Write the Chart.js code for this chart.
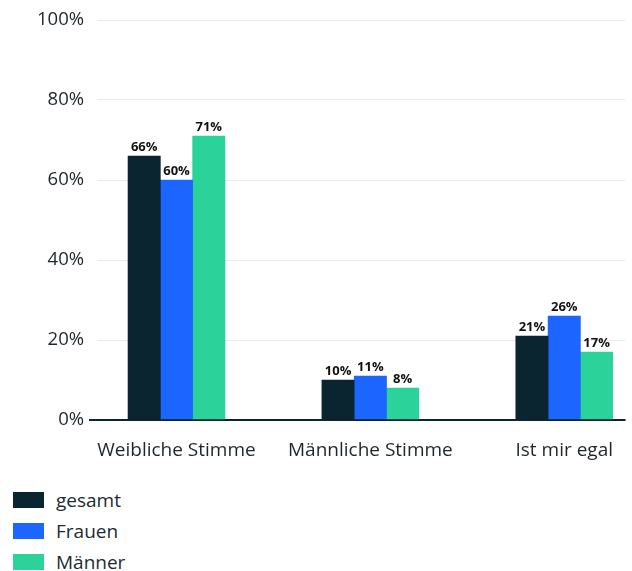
<!DOCTYPE html>
<html>
<head>
<meta charset="utf-8">
<script src="https://cdn.jsdelivr.net/npm/chart.js@4"></script>
<style>
  html, body { margin: 0; padding: 0; background: #fff; }
  #wrap { position: relative; width: 632px; height: 470px; }
  #legend { position: absolute; left: 13px; top: 484px; font-family: "Open Sans", sans-serif; font-size: 19px; color: #1c2b33; }
  .item { display: flex; align-items: center; height: 31px; }
  .box { width: 31px; height: 16px; margin-right: 12px; }
</style>
</head>
<body>
<div id="wrap"><canvas id="c"></canvas></div>
<div id="legend"></div>
<script>
const categories = ['Weibliche Stimme', 'Männliche Stimme', 'Ist mir egal'];
const seriesNames = ['gesamt', 'Frauen', 'Männer'];
const gesamt = [66, 10, 21];
const frauen = [60, 11, 26];
const maenner = [71, 8, 17];
const yTicks = [0, 20, 40, 60, 80, 100];
const colors = ['#0a252f', '#1c66ff', '#2bd39a'];

const seriesValues = [gesamt, frauen, maenner];
const datasets = seriesNames.map((name, i) => ({
  label: name,
  data: seriesValues[i].map((v, j) => ({ x: j, y: v })),
  backgroundColor: colors[i],
  borderWidth: 0,
  barThickness: 32.3
}));

const valueLabels = {
  id: 'valueLabels',
  afterDatasetsDraw(chart) {
    const ctx = chart.ctx;
    ctx.save();
    ctx.font = 'bold 13px "Open Sans", sans-serif';
    ctx.fillStyle = '#111';
    ctx.textAlign = 'center';
    ctx.textBaseline = 'bottom';
    chart.data.datasets.forEach((ds, i) => {
      const meta = chart.getDatasetMeta(i);
      meta.data.forEach((el, j) => {
        ctx.fillText(seriesValues[i][j] + '%', el.x, el.y - 2);
      });
    });
    ctx.restore();
  }
};

const chart = new Chart(document.getElementById('c'), {
  type: 'bar',
  data: { datasets },
  options: {
    responsive: true,
    maintainAspectRatio: false,
    animation: false,
    layout: { padding: { top: 20, right: 0, left: 0, bottom: 0 } },
    plugins: { legend: { display: false }, tooltip: { enabled: false } },
    scales: {
      x: {
        type: 'linear',
        offset: false,
        min: -0.41,
        max: 2.316,
        grid: { display: false, drawTicks: false },
        border: { display: false },
        afterBuildTicks(scale) { scale.ticks = categories.map((c, i) => ({ value: i })); },
        afterFit(scale) { scale.height = 50; },
        ticks: {
          padding: 19,
          color: '#1e262a',
          font: { family: '"Open Sans", sans-serif', size: 19 },
          callback: (v) => categories[v]
        }
      },
      y: {
        min: 0,
        max: 100,
        afterBuildTicks(scale) { scale.ticks = yTicks.map(v => ({ value: v })); },
        afterFit(scale) { scale.width = 97; },
        border: { display: false },
        grid: {
          color: (c) => c.tick && c.tick.value === 0 ? '#0a252f' : '#ebebeb',
          lineWidth: (c) => c.tick && c.tick.value === 0 ? 2 : 1,
          tickColor: (c) => c.tick && c.tick.value === 0 ? '#0a252f' : 'rgba(0,0,0,0)',
          tickLength: 8
        },
        ticks: {
          padding: 5,
          color: '#1e262a',
          font: { family: '"Open Sans", sans-serif', size: 18.5 },
          callback: (v) => v + '%'
        }
      }
    }
  },
  plugins: [valueLabels]
});

const legend = document.getElementById('legend');
chart.data.datasets.forEach(ds => {
  const item = document.createElement('div');
  item.className = 'item';
  const box = document.createElement('span');
  box.className = 'box';
  box.style.background = ds.backgroundColor;
  const txt = document.createElement('span');
  txt.textContent = ds.label;
  item.appendChild(box);
  item.appendChild(txt);
  legend.appendChild(item);
});
</script>
</body>
</html>
